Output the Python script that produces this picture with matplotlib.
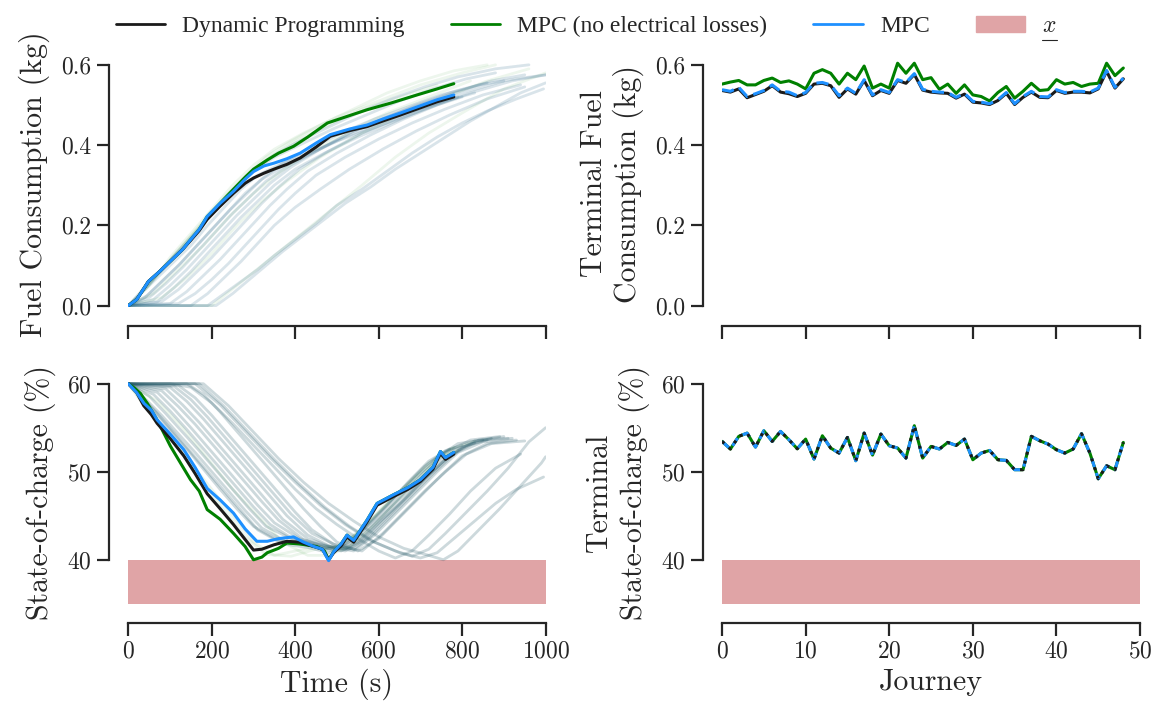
import numpy as np
import matplotlib.pyplot as plt
import seaborn as sns
from matplotlib.lines import Line2D
from matplotlib.patches import Patch

sns.set_style("ticks")
plt.rcParams['font.family'] = ['cmr10', 'DejaVu Serif']
plt.rcParams['mathtext.fontset'] = 'cm'
plt.rcParams['axes.formatter.use_mathtext'] = True

# ---- highlighted journey (left column) ----
t_fuel_dp = [0, 20, 48, 75, 105, 130, 149, 170, 189, 220, 252, 280, 300, 325, 349, 380, 412, 450, 484, 530, 572, 610, 652, 700, 740, 780]
fuel_dp = [0, 0.015, 0.06, 0.085, 0.115, 0.14, 0.162, 0.187, 0.215, 0.248, 0.28, 0.305, 0.318, 0.33, 0.34, 0.352, 0.368, 0.395, 0.422, 0.436, 0.446, 0.46, 0.475, 0.493, 0.508, 0.52]
t_fuel_mpc = [0, 20, 48, 75, 105, 130, 149, 170, 189, 220, 252, 280, 300, 325, 349, 380, 412, 450, 484, 530, 572, 610, 652, 700, 740, 780]
fuel_mpc = [0, 0.015, 0.06, 0.085, 0.115, 0.14, 0.164, 0.19, 0.222, 0.255, 0.285, 0.315, 0.334, 0.348, 0.355, 0.366, 0.38, 0.405, 0.426, 0.44, 0.45, 0.465, 0.48, 0.498, 0.513, 0.525]
t_fuel_nl = [0, 20, 48, 75, 105, 130, 149, 170, 189, 220, 252, 280, 300, 333, 360, 396, 430, 477, 520, 572, 630, 692, 740, 780]
fuel_nl = [0, 0.015, 0.06, 0.085, 0.115, 0.14, 0.164, 0.19, 0.222, 0.255, 0.29, 0.32, 0.34, 0.363, 0.38, 0.397, 0.42, 0.455, 0.47, 0.488, 0.505, 0.525, 0.54, 0.553]

t_soc_mpc = [0, 20, 37, 55, 69, 100, 133, 160, 189, 220, 252, 280, 308, 333, 360, 396, 420, 445, 465, 480, 492, 510, 524, 540, 572, 596, 636, 670, 700, 730, 748, 760, 780]
soc_mpc = [60, 59, 57.8, 57, 55.9, 54.3, 52.5, 50.5, 48.1, 46.8, 45.3, 43.5, 42.1, 42.1, 42.4, 42.6, 42.0, 41.5, 41.2, 39.9, 40.9, 41.8, 42.8, 42.2, 44.5, 46.4, 47.4, 48.2, 49.1, 50.5, 52.3, 51.6, 52.2]
t_soc_dp = [0, 20, 37, 55, 69, 100, 133, 160, 189, 220, 252, 280, 300, 320, 349, 380, 410, 445, 465, 480, 492, 510, 524, 540, 572, 596, 636, 670, 700, 730, 748, 760, 780]
soc_dp = [60, 59, 57.5, 56.5, 55.5, 53.8, 51.8, 49.8, 47.5, 45.8, 44, 42.3, 41.1, 41.2, 41.7, 42.1, 42.0, 41.5, 41.2, 40.0, 40.8, 41.6, 42.6, 42.0, 44.3, 46.2, 47.2, 48.0, 48.9, 50.3, 52.1, 51.4, 52.0]
t_soc_nl = [0, 15, 29, 45, 70, 101, 125, 149, 170, 189, 220, 252, 280, 300, 320, 333, 360, 380, 410, 452, 470, 480, 492, 510, 524, 540, 572, 596, 636, 670, 700, 730, 748, 760, 780]
soc_nl = [60, 59.5, 58.9, 57.8, 55.8, 52.9, 51.0, 49.1, 47.8, 45.7, 44.6, 43.0, 41.5, 40.0, 40.3, 40.8, 41.3, 41.9, 41.8, 41.5, 41.0, 40.0, 40.9, 41.8, 42.8, 42.2, 44.5, 46.4, 47.4, 48.2, 49.1, 50.5, 52.3, 51.6, 52.2]

# ---- other journeys (faint) ----
fuel_bg = [
    ([0, 30, 70, 110, 150, 190, 230, 270, 310, 360, 420, 500, 580, 660, 740, 800], [0, 0.03, 0.07, 0.11, 0.15, 0.20, 0.245, 0.29, 0.325, 0.35, 0.375, 0.41, 0.44, 0.47, 0.50, 0.52]),
    ([0, 40, 80, 120, 160, 200, 240, 280, 320, 370, 440, 520, 600, 680, 760, 830], [0, 0.02, 0.06, 0.10, 0.145, 0.19, 0.235, 0.28, 0.315, 0.345, 0.38, 0.42, 0.455, 0.485, 0.51, 0.53]),
    ([0, 50, 90, 130, 170, 210, 250, 290, 330, 380, 450, 530, 610, 690, 770, 860], [0, 0.02, 0.055, 0.095, 0.14, 0.185, 0.23, 0.27, 0.31, 0.345, 0.385, 0.43, 0.465, 0.50, 0.53, 0.555]),
    ([0, 20, 60, 100, 140, 180, 220, 260, 300, 350, 410, 490, 570, 650, 730, 810, 880], [0, 0.02, 0.065, 0.11, 0.155, 0.205, 0.25, 0.295, 0.335, 0.37, 0.40, 0.44, 0.475, 0.51, 0.54, 0.565, 0.58]),
    ([0, 60, 100, 140, 180, 220, 260, 300, 340, 390, 460, 540, 620, 700, 780, 870, 950], [0, 0.015, 0.05, 0.09, 0.135, 0.18, 0.225, 0.265, 0.305, 0.345, 0.39, 0.435, 0.47, 0.50, 0.53, 0.56, 0.575]),
    ([0, 80, 120, 160, 200, 240, 280, 320, 360, 410, 480, 560, 640, 720, 800, 900], [0, 0.01, 0.04, 0.08, 0.12, 0.165, 0.21, 0.255, 0.295, 0.34, 0.385, 0.43, 0.465, 0.50, 0.53, 0.56]),
    ([0, 100, 140, 180, 220, 260, 300, 340, 380, 430, 500, 580, 660, 740, 820, 920, 1000], [0, 0.005, 0.035, 0.075, 0.115, 0.16, 0.205, 0.25, 0.29, 0.335, 0.38, 0.425, 0.465, 0.50, 0.53, 0.56, 0.575]),
    ([0, 190, 230, 270, 310, 350, 400, 450, 500, 560, 620, 680, 740, 800, 860, 930, 995], [0, 0, 0.03, 0.06, 0.09, 0.125, 0.165, 0.205, 0.25, 0.29, 0.335, 0.38, 0.42, 0.455, 0.485, 0.515, 0.54]),
    ([0, 210, 250, 290, 330, 370, 420, 470, 520, 580, 640, 700, 760, 820, 880, 940, 1000], [0, 0, 0.03, 0.065, 0.10, 0.135, 0.175, 0.215, 0.255, 0.295, 0.34, 0.38, 0.42, 0.46, 0.495, 0.53, 0.555]),
    ([0, 30, 70, 110, 150, 190, 230, 270, 310, 350, 400, 470, 550, 630, 710, 790, 880, 960], [0, 0.035, 0.08, 0.125, 0.17, 0.215, 0.265, 0.31, 0.345, 0.375, 0.405, 0.44, 0.48, 0.515, 0.545, 0.57, 0.59, 0.60]),
    ([0, 45, 85, 125, 165, 205, 245, 285, 325, 370, 430, 510, 590, 670, 750, 840, 930, 1000], [0, 0.025, 0.065, 0.105, 0.15, 0.195, 0.24, 0.28, 0.32, 0.355, 0.39, 0.43, 0.465, 0.495, 0.525, 0.55, 0.565, 0.575]),
    ([0, 70, 110, 150, 190, 230, 270, 310, 350, 400, 470, 550, 630, 710, 790], [0, 0.01, 0.045, 0.085, 0.13, 0.175, 0.22, 0.26, 0.30, 0.34, 0.38, 0.42, 0.455, 0.49, 0.52]),
    ([0, 120, 160, 200, 240, 280, 320, 360, 400, 450, 520, 600, 680, 760, 850, 940], [0, 0.005, 0.03, 0.065, 0.105, 0.15, 0.195, 0.24, 0.28, 0.325, 0.37, 0.415, 0.455, 0.49, 0.525, 0.55]),
    ([0, 150, 190, 230, 270, 310, 350, 400, 460, 530, 610, 690, 770, 860, 950], [0, 0, 0.03, 0.07, 0.11, 0.155, 0.20, 0.245, 0.29, 0.34, 0.39, 0.435, 0.475, 0.515, 0.545]),
]
fuel_bg_nl = [
    ([0, 50, 100, 150, 200, 250, 300, 350, 420, 500, 600, 700, 800, 880], [0, 0.05, 0.12, 0.18, 0.24, 0.30, 0.35, 0.39, 0.43, 0.47, 0.51, 0.55, 0.58, 0.60]),
    ([0, 60, 120, 180, 240, 300, 360, 430, 520, 620, 720, 820], [0, 0.03, 0.09, 0.15, 0.22, 0.28, 0.33, 0.38, 0.43, 0.48, 0.52, 0.56]),
    ([0, 80, 140, 200, 260, 320, 380, 460, 560, 660, 760, 860, 960], [0, 0.02, 0.07, 0.13, 0.20, 0.26, 0.31, 0.37, 0.43, 0.48, 0.52, 0.56, 0.59]),
    ([0, 40, 90, 140, 190, 240, 290, 340, 400, 480, 560, 650, 740], [0, 0.04, 0.10, 0.16, 0.22, 0.28, 0.33, 0.37, 0.41, 0.45, 0.49, 0.52, 0.55]),
    ([0, 30, 80, 130, 180, 230, 280, 330, 390, 460, 540, 620, 700, 780, 860], [0, 0.03, 0.09, 0.15, 0.21, 0.27, 0.32, 0.37, 0.41, 0.45, 0.49, 0.53, 0.56, 0.585, 0.60]),
    ([0, 200, 260, 320, 380, 440, 500, 560, 640, 720, 800, 900, 1000], [0, 0, 0.05, 0.10, 0.15, 0.20, 0.25, 0.30, 0.37, 0.43, 0.48, 0.54, 0.58]),
]
soc_bg = [
    ([0, 40, 80, 120, 160, 200, 240, 280, 320, 380, 440, 490, 530, 580, 630, 680, 730, 780, 830], [60, 58.3, 56.4, 54.3, 52.2, 50, 47.8, 45.6, 43.6, 42, 41.6, 41, 41.8, 43.8, 46, 48.2, 50.6, 52.5, 53.3]),
    ([0, 60, 100, 140, 180, 220, 260, 300, 340, 400, 460, 510, 550, 600, 650, 700, 750, 800, 860], [60, 58.8, 56.9, 54.8, 52.6, 50.4, 48.2, 46, 44, 42.2, 41.5, 41, 42, 44.2, 46.4, 48.8, 51, 52.8, 53.6]),
    ([0, 80, 120, 160, 200, 240, 280, 320, 360, 420, 470, 520, 560, 610, 660, 710, 760, 810, 870], [60, 59.2, 57.4, 55.4, 53.2, 51, 48.8, 46.6, 44.5, 42.3, 41.4, 41, 42.2, 44.6, 46.8, 49.2, 51.4, 53, 53.8]),
    ([0, 100, 140, 180, 220, 260, 300, 340, 380, 430, 480, 530, 570, 620, 670, 720, 770, 830, 900], [60, 59.6, 58, 56, 53.8, 51.6, 49.4, 47.2, 45, 42.8, 41.6, 41.2, 42.4, 44.8, 47.2, 49.6, 51.8, 53.5, 54]),
    ([0, 20, 60, 100, 140, 180, 220, 260, 300, 360, 420, 470, 510, 560, 610, 660, 710, 760, 800], [60, 59, 57, 54.8, 52.6, 50.3, 48, 45.8, 43.8, 42.2, 41.8, 41.2, 41.6, 43.4, 45.8, 48.2, 50.6, 52.4, 53]),
    ([0, 120, 160, 200, 240, 280, 320, 360, 400, 440, 490, 540, 580, 630, 680, 730, 780, 840, 910], [60, 59.8, 58.4, 56.4, 54.2, 52, 49.8, 47.6, 45.4, 43.4, 41.8, 41.2, 42.6, 45, 47.4, 49.8, 52, 53.6, 53.8]),
    ([0, 50, 90, 130, 170, 210, 250, 290, 330, 390, 450, 500, 540, 590, 640, 690, 740, 790, 850], [60, 58.6, 56.6, 54.5, 52.4, 50.2, 48, 45.8, 43.8, 42.4, 41.8, 41.3, 42.4, 44.6, 47, 49.4, 51.6, 53.2, 53.6]),
    ([0, 140, 180, 220, 260, 300, 340, 380, 420, 460, 500, 550, 600, 650, 700, 750, 800, 860, 930], [60, 60, 58.8, 56.8, 54.6, 52.4, 50.2, 48, 45.8, 43.8, 42, 41, 42.4, 44.8, 47.2, 49.6, 51.8, 53.2, 53.6]),
    ([0, 100, 150, 200, 250, 300, 350, 400, 450, 500, 550, 600, 640, 680, 720, 770, 820, 880, 940], [60, 60, 59.6, 57.8, 55.5, 53, 50.5, 48, 45.8, 44, 42.4, 41, 40.2, 41, 42.8, 45.2, 47.8, 50.4, 52]),
    ([0, 160, 220, 280, 340, 400, 460, 520, 580, 640, 680, 720, 760, 810, 860, 910, 960, 1000], [60, 60, 57.6, 54.6, 51.6, 48.8, 46.2, 44, 42.2, 41, 40.4, 41.2, 43, 45.4, 47.8, 50.4, 53.4, 55]),
    ([0, 180, 240, 300, 360, 420, 480, 540, 600, 660, 720, 755, 790, 840, 890, 940, 990, 1000], [60, 60, 57.5, 54.5, 51.5, 48.8, 46.4, 44.4, 42.6, 41.3, 40.5, 40, 41, 43.4, 45.8, 48.4, 51, 51.7]),
    ([0, 170, 230, 290, 350, 410, 470, 530, 590, 650, 700, 740, 780, 830, 880, 930, 995], [60, 60, 57.4, 54.4, 51.4, 48.6, 46, 43.8, 42, 40.8, 40.2, 40.8, 42.4, 44.4, 46.4, 48, 49.4]),
    ([0, 30, 70, 110, 150, 190, 230, 270, 310, 370, 430, 480, 520, 570, 620, 670, 720, 770], [60, 58.6, 56.6, 54.4, 52.2, 50, 47.8, 45.6, 43.4, 41.8, 41.4, 40.8, 41.6, 43.8, 46.2, 48.8, 51.2, 52.6]),
    ([0, 70, 110, 150, 190, 230, 270, 310, 350, 410, 470, 520, 560, 610, 660, 710, 760, 820, 890], [60, 59, 57.1, 55, 52.8, 50.6, 48.4, 46.2, 44.2, 42.4, 41.6, 41.2, 42.6, 45, 47.6, 50, 52.2, 53.6, 54]),
    ([0, 90, 130, 170, 210, 250, 290, 330, 370, 430, 490, 540, 590, 640, 690, 740, 790, 850, 920], [60, 59.4, 57.6, 55.6, 53.4, 51.2, 49, 46.8, 44.6, 42.4, 41.4, 41, 42.8, 45.2, 47.6, 50, 52.2, 53.4, 53.8]),
    ([0, 110, 150, 190, 230, 270, 310, 350, 390, 440, 500, 560, 610, 660, 710, 760, 810, 870, 950], [60, 59.7, 58.2, 56.2, 54, 51.8, 49.6, 47.4, 45.2, 43, 41.6, 41, 43, 45.4, 47.8, 50, 52, 53.2, 53.5]),
]
soc_bg_nl = [
    ([0, 50, 100, 150, 200, 250, 300, 350, 400, 460, 500, 560, 620, 680, 740, 790], [60, 57, 54, 51, 48, 45, 42, 40.5, 41, 41.5, 41.5, 43.5, 46.5, 49, 51.5, 52.5]),
    ([0, 70, 130, 190, 250, 310, 370, 430, 480, 530, 590, 650, 710, 770, 830], [60, 58, 55, 51.5, 48, 45, 42, 40.5, 40.5, 41.5, 44, 47, 50, 52.5, 53.5]),
    ([0, 30, 80, 130, 180, 230, 280, 330, 390, 450, 500, 550, 600, 660, 720, 780], [60, 58, 55, 52, 48.8, 45.6, 42.6, 40.6, 40.4, 41.2, 41.4, 43, 45.4, 48.2, 51, 52.8]),
]

# ---- terminal values per journey (right column) ----
journeys = list(range(49))
term_fuel_nl = [0.552, 0.557, 0.561, 0.550, 0.550, 0.561, 0.567, 0.556, 0.560, 0.552, 0.540, 0.579, 0.588, 0.579, 0.552,
                0.579, 0.563, 0.597, 0.542, 0.552, 0.542, 0.604, 0.579, 0.604, 0.563, 0.568, 0.539, 0.552, 0.529, 0.550,
                0.525, 0.521, 0.510, 0.531, 0.546, 0.517, 0.534, 0.554, 0.536, 0.538, 0.563, 0.552, 0.556, 0.546, 0.552,
                0.554, 0.604, 0.573, 0.592]
term_fuel_mpc = [0.538, 0.534, 0.544, 0.521, 0.528, 0.536, 0.550, 0.534, 0.532, 0.523, 0.531, 0.554, 0.556, 0.550, 0.523,
                 0.542, 0.529, 0.563, 0.525, 0.538, 0.531, 0.563, 0.556, 0.578, 0.539, 0.534, 0.532, 0.531, 0.519, 0.529,
                 0.509, 0.507, 0.503, 0.513, 0.531, 0.503, 0.521, 0.534, 0.521, 0.520, 0.538, 0.531, 0.534, 0.534, 0.532,
                 0.542, 0.586, 0.544, 0.567]
term_fuel_dp = [0.536, 0.532, 0.540, 0.518, 0.526, 0.534, 0.548, 0.532, 0.528, 0.521, 0.529, 0.552, 0.554, 0.548, 0.519,
                0.540, 0.527, 0.561, 0.523, 0.536, 0.529, 0.561, 0.554, 0.576, 0.537, 0.532, 0.530, 0.529, 0.517, 0.527,
                0.507, 0.505, 0.501, 0.511, 0.529, 0.501, 0.519, 0.532, 0.519, 0.518, 0.536, 0.529, 0.532, 0.532, 0.530,
                0.540, 0.584, 0.542, 0.565]
term_soc = [53.45, 52.58, 54.02, 54.39, 52.80, 54.66, 53.45, 54.58, 53.64, 52.61, 53.71, 51.44, 54.09, 52.69, 52.12,
            53.90, 51.25, 54.39, 51.89, 54.28, 52.95, 52.69, 51.55, 55.23, 51.55, 52.88, 52.58, 53.33, 52.99, 53.71,
            51.36, 52.12, 52.42, 51.36, 51.29, 50.23, 50.23, 54.02, 53.52, 53.14, 52.50, 52.12, 52.58, 54.32, 52.12,
            49.20, 50.68, 50.23, 53.33]

soc_min, soc_floor = 40, 35

c_dp, c_nl, c_mpc = '#1a1a1a', 'green', 'dodgerblue'
c_bg = '#24504f'
c_band = '#e0a4a6'

fig = plt.figure(figsize=(11.56, 7.07), dpi=100)
ax_f = fig.add_axes([0.111, 0.566, 0.361, 0.348])
ax_s = fig.add_axes([0.111, 0.146, 0.361, 0.315])
ax_tf = fig.add_axes([0.6246, 0.566, 0.3616, 0.348])
ax_ts = fig.add_axes([0.6246, 0.146, 0.3616, 0.315])

# fuel trajectories
for t, v in fuel_bg_nl:
    ax_f.plot(t, v, color=c_nl, alpha=0.07, lw=2)
for t, v in fuel_bg:
    ax_f.plot(t, v, color=c_bg, alpha=0.12, lw=2)
    ax_f.plot(t, v, color=c_mpc, alpha=0.05, lw=2)
ax_f.plot(t_fuel_nl, fuel_nl, color=c_nl, lw=2.2)
ax_f.plot(t_fuel_dp, fuel_dp, color=c_dp, lw=2.2)
ax_f.plot(t_fuel_mpc, fuel_mpc, color=c_mpc, lw=2.2)

# SOC trajectories
ax_s.axhspan(soc_floor, soc_min, color=c_band, lw=0)
for t, v in soc_bg_nl:
    ax_s.plot(t, v, color=c_nl, alpha=0.08, lw=2)
for t, v in soc_bg:
    ax_s.plot(t, v, color=c_bg, alpha=0.2, lw=2)
    ax_s.plot(t, v, color=c_mpc, alpha=0.03, lw=2)
ax_s.plot(t_soc_nl, soc_nl, color=c_nl, lw=2.2)
ax_s.plot(t_soc_dp, soc_dp, color=c_dp, lw=2.2)
ax_s.plot(t_soc_mpc, soc_mpc, color=c_mpc, lw=2.2)

# terminal values
ax_tf.plot(journeys, term_fuel_nl, color=c_nl, lw=2.2)
ax_tf.plot(journeys, term_fuel_dp, color=c_dp, lw=2.2)
ax_tf.plot(journeys, term_fuel_mpc, color=c_mpc, lw=2.2, ls=(0, (4, 2)))

ax_ts.axhspan(soc_floor, soc_min, color=c_band, lw=0)
ax_ts.plot(journeys, term_soc, color=c_nl, lw=2.2)
ax_ts.plot(journeys, term_soc, color=c_mpc, lw=2.2, ls=(0, (3, 2)))
ax_ts.plot(journeys, term_soc, color=c_dp, lw=2.2, ls=(0, (1, 2)))

for ax in (ax_f, ax_s):
    ax.set_xlim(0, 1000)
    ax.set_xticks([0, 200, 400, 600, 800, 1000])
for ax in (ax_tf, ax_ts):
    ax.set_xlim(0, 50)
    ax.set_xticks([0, 10, 20, 30, 40, 50])
for ax in (ax_f, ax_tf):
    ax.set_ylim(-0.003, 0.61)
    ax.set_yticks([0.0, 0.2, 0.4, 0.6])
    ax.set_yticklabels(['0.0', '0.2', '0.4', '0.6'])
    ax.tick_params(labelbottom=False)
for ax in (ax_s, ax_ts):
    ax.set_ylim(soc_floor, 60.3)
    ax.set_yticks([40, 50, 60])

for ax in (ax_f, ax_s, ax_tf, ax_ts):
    ax.tick_params(labelsize=17, length=9, width=1.6, colors='.15')
    for sp in ax.spines.values():
        sp.set_linewidth(1.6)
sns.despine(fig=fig, offset=14, trim=True)

ax_f.set_ylabel('Fuel Consumption (kg)', fontsize=21.5, labelpad=8)
ax_s.set_ylabel('State-of-charge (%)', fontsize=21.5, labelpad=8)
ax_tf.set_ylabel('Terminal Fuel\nConsumption (kg)', fontsize=21.5, labelpad=8)
ax_ts.set_ylabel('Terminal\nState-of-charge (%)', fontsize=21.5, labelpad=8)
ax_s.set_xlabel('Time (s)', fontsize=21.5)
ax_ts.set_xlabel('Journey', fontsize=21.5)

handles = [Line2D([], [], color=c_dp, lw=2), Line2D([], [], color=c_nl, lw=2),
           Line2D([], [], color=c_mpc, lw=2), Patch(color=c_band)]
labels = ['Dynamic Programming', 'MPC (no electrical losses)', 'MPC', '$x$']
leg = fig.legend(handles, labels, loc='upper center', bbox_to_anchor=(0.507, 1.008), ncol=4, frameon=False,
                 prop={'family': 'Liberation Serif', 'size': 17}, handlelength=2.1, handletextpad=0.72,
                 columnspacing=1.95)

# underline the x of the lower bound label (mathtext has no \underline)
fig.canvas.draw()
bb = leg.get_texts()[3].get_window_extent().transformed(fig.transFigure.inverted())
fig.add_artist(Line2D([bb.x0, bb.x1], [bb.y0 - 0.004, bb.y0 - 0.004], transform=fig.transFigure,
                      color='.15', lw=0.8))

fig.savefig('out.png', dpi=100)
